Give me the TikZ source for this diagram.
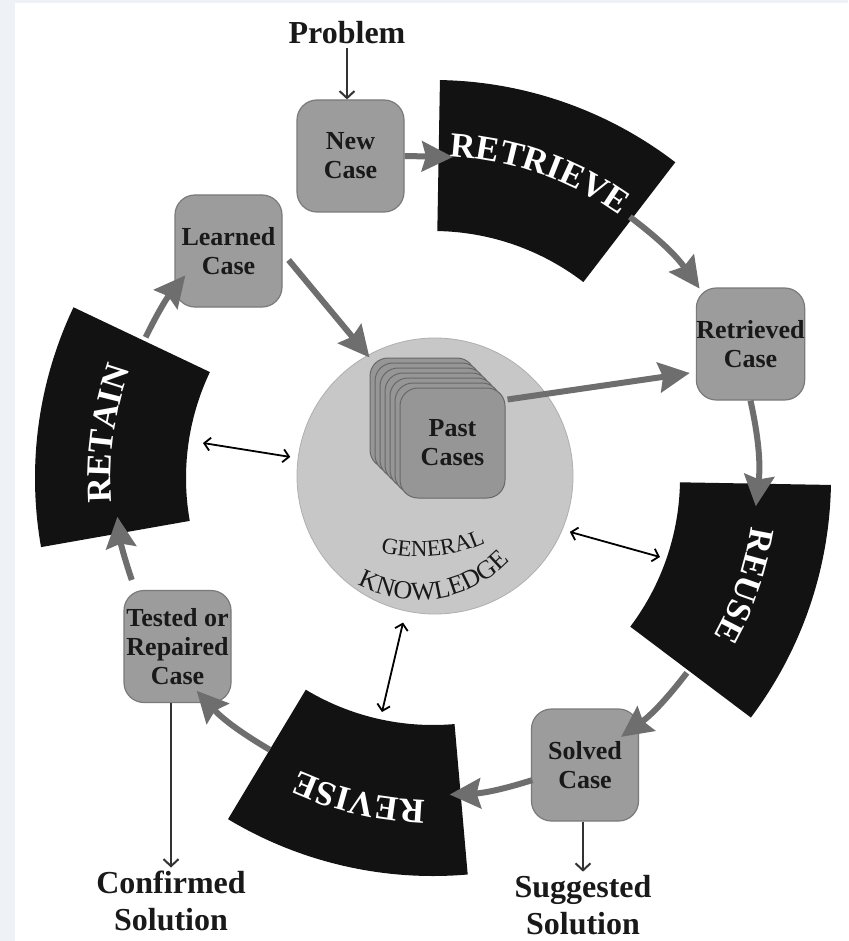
\documentclass[tikz,border=0pt]{standalone}
\usepackage{fontspec}
\setmainfont{Liberation Serif}
\usetikzlibrary{arrows.meta,calc,decorations.text}

\definecolor{boxfill}{HTML}{9C9C9C}
\definecolor{boxline}{HTML}{7A7A7A}
\definecolor{flow}{HTML}{6E6E6E}
\definecolor{phase}{HTML}{121212}
\definecolor{knowfill}{HTML}{C7C7C7}
\definecolor{strip}{HTML}{EEF2F7}

\newcommand\casefont{\bfseries\fontsize{26}{29}\selectfont}
\newcommand\phasefont{\bfseries\fontsize{35}{35}\selectfont}
\newcommand\knowfontA{\fontsize{23}{23}\selectfont}
\newcommand\knowfontB{\fontsize{26}{26}\selectfont}

% black annular sector of the cycle, between two angles
\newcommand\phasesector[2]{%
  \fill[phase] ($(C)+(#1:247)$) arc[start angle=#1, end angle=#2, radius=247pt]
    -- ($(C)+(#2:398)$) arc[start angle=#2, end angle=#1, radius=398pt] -- cycle;}
% white word set clockwise along the middle of a sector
\newcommand\phaselabel[3]{%
  \path[decorate, decoration={text along path, text align=center, text color=white,
      text={|\phasefont|#3}}]
    ($(C)+(#1:322)$) arc[start angle=#1, end angle=#2, radius=322pt];}

\begin{document}
\begin{tikzpicture}[x=1pt,y=1pt,
  casebox/.style={draw=boxline, line width=1.2pt, fill=boxfill, rounded corners=20pt,
    minimum width=107pt, minimum height=112pt, inner sep=0pt, align=center,
    font=\casefont, text=black!90},
  pastcard/.style={draw=boxline!85!black, line width=1pt, fill=boxfill!96!black,
    rounded corners=18pt, minimum width=105pt, minimum height=110pt, inner sep=0pt,
    align=center, font=\casefont, text=black!90},
  flowarrow/.style={draw=flow, line width=6pt, -{Stealth[length=31pt,width=30pt,inset=4pt]}},
  thinarrow/.style={draw=black!80, line width=2pt, -{Straight Barb[length=7pt,width=15pt]}},
  linkarrow/.style={draw=black, line width=1.8pt,
    {Straight Barb[length=6pt,width=13pt]}-{Straight Barb[length=6pt,width=13pt]}},
  termtext/.style={font=\bfseries\fontsize{32}{37}\selectfont, align=center, text=black!90},
]
\useasboundingbox (0,0) rectangle (848,-941);
\fill[white] (0,0) rectangle (848,-941);
\fill[strip] (0,0) rectangle (15,-941);
\fill[strip] (0,0) rectangle (848,-3);

\coordinate (C) at (433,-478);

% general knowledge disc
\node[circle, fill=knowfill, draw=knowfill!88!black, line width=0.8pt,
  minimum size=276pt, inner sep=0pt] (gk) at (435,-476) {};

% stack of past cases
\foreach \i in {6,...,1}
  \node[pastcard] (pc\i) at (452.5-5*\i, -443+5*\i) {};
\node[pastcard] (past) at (452.5,-443) {Past\\Cases};

% curved caption of the disc
\coordinate (gtop) at (420,-397);
\coordinate (gbot) at (418,-473);
\path[decorate, decoration={text along path, text align=center, text color=black!90,
    text={|\knowfontA|GENERAL}}]
  ($(gtop)+(252:160)$) arc[start angle=252, end angle=298, radius=160pt];
\path[decorate, decoration={text along path, text align=center, text color=black!90,
    text={|\knowfontB|KNOWLEDGE}}]
  ($(gbot)+(234:127)$) arc[start angle=234, end angle=324, radius=127pt];

% the four phases
\phasesector{52.5}{89}
\phaselabel{89}{52.5}{RETRIEVE}
\phasesector{-37}{-1}
\phaselabel{-1}{-37}{REUSE}
\phasesector{-121}{-85}
\phaselabel{-85}{-121}{REVISE}
\phasesector{154.6}{190}
\phaselabel{190}{154.6}{RETAIN}

% cases
\node[casebox] (nc) at (350.5,-156) {New\\Case};
\node[casebox] (lc) at (228.5,-251) {Learned\\Case};
\node[casebox] (rc) at (750.5,-344) {Retrieved\\Case};
\node[casebox] (sc) at (585,-765) {Solved\\Case};
\node[casebox] (tc) at (177.5,-646.5) {Tested or\\Repaired\\Case};

% inputs and outputs
\node[termtext] (prob) at (347,-33) {Problem};
\node[termtext] (conf) at (171,-901) {Confirmed\\Solution};
\node[termtext] (sugg) at (583,-905) {Suggested\\Solution};

% ends of the cycle arrows
\coordinate (retrieve-in) at (453,-157);
\coordinate (retrieve-out) at ($(C)+(53:327)$);
\coordinate (rc-in) at ($(C)+(35.4:327)$);
\coordinate (reuse-in) at ($(C)+(-5:324)$);
\coordinate (reuse-out) at ($(C)+(-37.5:320)$);
\coordinate (sc-in) at ($(C)+(-54:320)$);
\coordinate (sc-out) at ($(C)+(-71.8:318)$);
\coordinate (revise-in) at ($(C)+(-87:317)$);
\coordinate (revise-out) at ($(C)+(239:317)$);
\coordinate (tc-in) at ($(C)+(222:318)$);
\coordinate (tc-out) at ($(C)+(198.7:318)$);
\coordinate (retain-in) at ($(C)+(187:318)$);
\coordinate (retain-out) at ($(C)+(153.9:320)$);
\coordinate (lc-in) at ($(C)+(140.7:320)$);

\draw[flowarrow] (nc.east) -- (retrieve-in);
\draw[flowarrow] (retrieve-out) to[bend left=8.8] (rc-in);
\draw[flowarrow] (rc.south) to[bend left=9.4] (reuse-in);
\draw[flowarrow] (reuse-out) to[bend left=8.25] (sc-in);
\draw[flowarrow] (sc-out) to[bend left=7.6] (revise-in);
\draw[flowarrow] (revise-out) to[bend left=8.5] (tc-in);
\draw[flowarrow] (tc-out) to[bend left=5.9] (retain-in);
\draw[flowarrow] (retain-out) to[bend left=6.6] (lc-in);

% into and out of the case base
\draw[flowarrow] ($(lc.east)+(6,-9)$) -- (pc6.north west);
\draw[flowarrow] ($(past.north east)+(2,-12)$) -- ($(rc.west)+(-6,-29)$);

% problem in, solutions out
\draw[thinarrow] (prob.south) -- (prob.south |- nc.north);
\draw[thinarrow] (sugg.north |- sc.south) -- (sugg.north);
\draw[thinarrow] (tc.south -| conf.north) -- (conf.north);

% links between the phases and general knowledge
\coordinate (retain-link) at (203,-443);
\coordinate (gk-west) at ($(gk)+(172.5:146)$);
\coordinate (gk-east) at ($(gk)+(-22.5:146)$);
\coordinate (reuse-link) at (660,-557);
\coordinate (gk-south) at ($(gk)+(-102.3:150)$);
\coordinate (revise-link) at (382,-712);
\draw[linkarrow] (retain-link) -- (gk-west);
\draw[linkarrow] (gk-east) -- (reuse-link);
\draw[linkarrow] (gk-south) -- (revise-link);
\end{tikzpicture}
\end{document}
